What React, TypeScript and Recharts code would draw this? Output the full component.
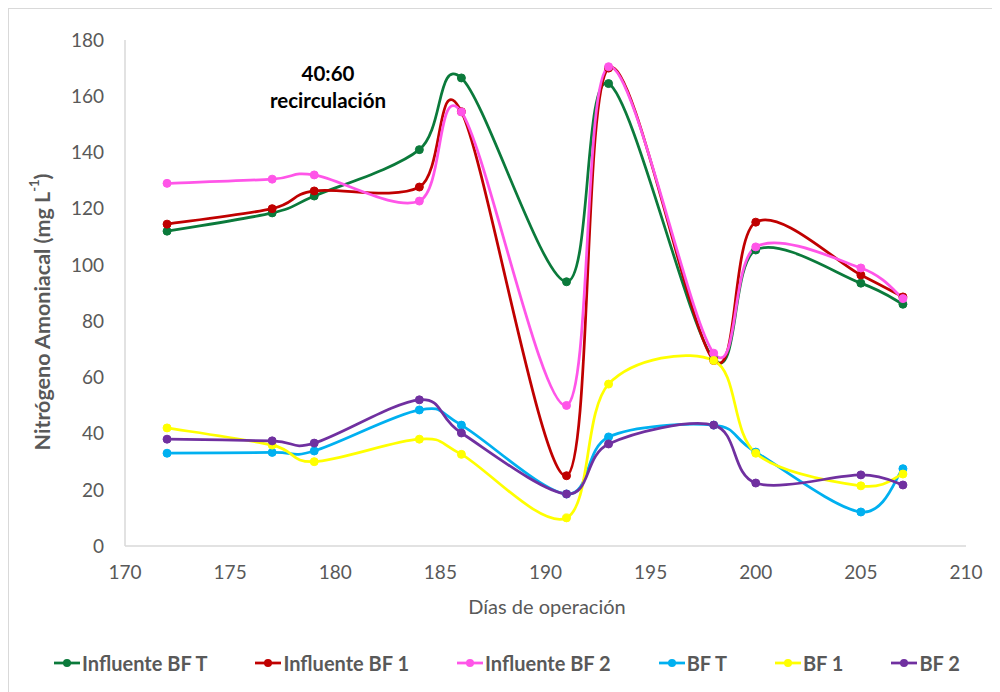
import React from 'react';
import { LineChart, Line, XAxis, YAxis } from 'recharts';

const days = [172, 177, 179, 184, 186, 191, 193, 198, 200, 205, 207];
const influenteBFT = [112, 118.5, 124.5, 141, 166.5, 94, 164.5, 66.5, 105.3, 93.5, 86];
const influenteBF1 = [114.5, 120, 126.3, 127.7, 154.5, 25, 170, 66, 115.2, 96.4, 88.6];
const influenteBF2 = [129, 130.5, 132, 122.7, 154.4, 50, 170.5, 68.6, 106.4, 98.9, 88];
const bfT = [33, 33.3, 33.8, 48.4, 43, 18.5, 38.8, 43, 33.4, 12.1, 27.5];
const bf1 = [42, 35.9, 30, 38, 32.6, 10, 57.6, 66, 33, 21.4, 25.6];
const bf2 = [38, 37.4, 36.6, 52, 40.2, 18.5, 36.3, 43, 22.4, 25.3, 21.7];

const xTicks = [170, 175, 180, 185, 190, 195, 200, 205, 210];
const yTicks = [0, 20, 40, 60, 80, 100, 120, 140, 160, 180];

const seriesNames = ['Influente BF T', 'Influente BF 1', 'Influente BF 2', 'BF T', 'BF 1', 'BF 2'];
const seriesKeys = ['infT', 'inf1', 'inf2', 'bfT', 'bf1', 'bf2'];
const seriesValues = [influenteBFT, influenteBF1, influenteBF2, bfT, bf1, bf2];
const seriesColors = ['#0B7A3B', '#C00000', '#FF55E8', '#00B0F0', '#FFFF00', '#7030A0'];

const data = days.map((d, i) => {
  const row: Record<string, number> = { day: d };
  seriesKeys.forEach((k, j) => {
    row[k] = seriesValues[j][i];
  });
  return row;
});

// Excel-like smoothed line (uniform Catmull-Rom as cubic Bezier)
function excelCurve(context: any) {
  let pts: [number, number][] = [];
  return {
    areaStart() {},
    areaEnd() {},
    lineStart() {
      pts = [];
    },
    lineEnd() {
      const n = pts.length;
      if (n === 0) return;
      context.moveTo(pts[0][0], pts[0][1]);
      for (let i = 0; i < n - 1; i++) {
        const p0 = pts[Math.max(i - 1, 0)];
        const p1 = pts[i];
        const p2 = pts[i + 1];
        const p3 = pts[Math.min(i + 2, n - 1)];
        context.bezierCurveTo(
          p1[0] + (p2[0] - p0[0]) / 6,
          p1[1] + (p2[1] - p0[1]) / 6,
          p2[0] - (p3[0] - p1[0]) / 6,
          p2[1] - (p3[1] - p1[1]) / 6,
          p2[0],
          p2[1]
        );
      }
    },
    point(x: number, y: number) {
      pts.push([+x, +y]);
    },
  };
}

const FONT = 'Lato, "Open Sans", sans-serif';
const TEXT = '#595959';

const YTitle = () => (
  <text
    x={33}
    y={303}
    transform="rotate(-90 33 303)"
    textAnchor="middle"
    dominantBaseline="central"
    fill={TEXT}
    fontFamily={FONT}
    fontWeight={700}
    fontSize={21.5}
  >
    Nitrógeno Amoniacal (mg L
    <tspan dy={-8} fontSize={13}>-1</tspan>
    <tspan dy={8}>)</tspan>
  </text>
);

const XTitle = () => (
  <text
    x={538}
    y={597}
    textAnchor="middle"
    dominantBaseline="central"
    fill={TEXT}
    fontFamily={FONT}
    fontSize={20}
  >
    Días de operación
  </text>
);

export default function App() {
  return (
    <div
      style={{
        position: 'relative',
        width: 991,
        height: 683,
        borderTop: '1px solid #d9d9d9',
        borderLeft: '1px solid #d9d9d9',
        background: '#fff',
        fontFamily: FONT,
      }}
    >
      <LineChart
        width={991}
        height={683}
        data={data}
        margin={{ top: 31, right: 34, bottom: 106, left: 56 }}
      >
        <XAxis
          dataKey="day"
          type="number"
          domain={[170, 210]}
          ticks={xTicks}
          tickLine={false}
          tickSize={6}
          tickMargin={14}
          height={40}
          axisLine={{ stroke: '#d9d9d9', strokeWidth: 1.5 }}
          tick={{ fill: TEXT, fontSize: 19, fontFamily: FONT }}
          label={() => <XTitle />}
        />
        <YAxis
          type="number"
          domain={[0, 180]}
          ticks={yTicks}
          tickLine={false}
          tickSize={6}
          tickMargin={15}
          width={60}
          axisLine={{ stroke: '#d9d9d9', strokeWidth: 1.5 }}
          tick={{ fill: TEXT, fontSize: 19, fontFamily: FONT }}
          label={() => <YTitle />}
        />
        {seriesKeys.map((k, j) => (
          <Line
            key={k}
            dataKey={k}
            name={seriesNames[j]}
            type={excelCurve as any}
            stroke={seriesColors[j]}
            strokeWidth={2.75}
            dot={{ r: 4, fill: seriesColors[j], stroke: seriesColors[j], strokeWidth: 1 }}
            activeDot={false}
            isAnimationActive={false}
          />
        ))}
      </LineChart>
      <div
        style={{
          position: 'absolute',
          left: 219,
          top: 51,
          width: 200,
          textAlign: 'center',
          fontWeight: 700,
          fontSize: 20.5,
          lineHeight: '27px',
          color: '#000',
        }}
      >
        40:60
        <br />
        recirculación
      </div>
      <div
        style={{
          position: 'absolute',
          left: 0,
          top: 642,
          width: 991,
          display: 'flex',
          justifyContent: 'center',
          gap: 48,
          paddingLeft: 5,
          boxSizing: 'border-box',
        }}
      >
        {seriesNames.map((name, j) => (
          <div key={name} style={{ display: 'flex', alignItems: 'center' }}>
            <svg width={26} height={20} style={{ marginRight: 2 }}>
              <line x1={0} y1={10} x2={26} y2={10} stroke={seriesColors[j]} strokeWidth={2.75} />
              <circle cx={13} cy={10} r={4} fill={seriesColors[j]} />
            </svg>
            <span style={{ fontWeight: 700, fontSize: 20, color: TEXT }}>{name}</span>
          </div>
        ))}
      </div>
    </div>
  );
}
